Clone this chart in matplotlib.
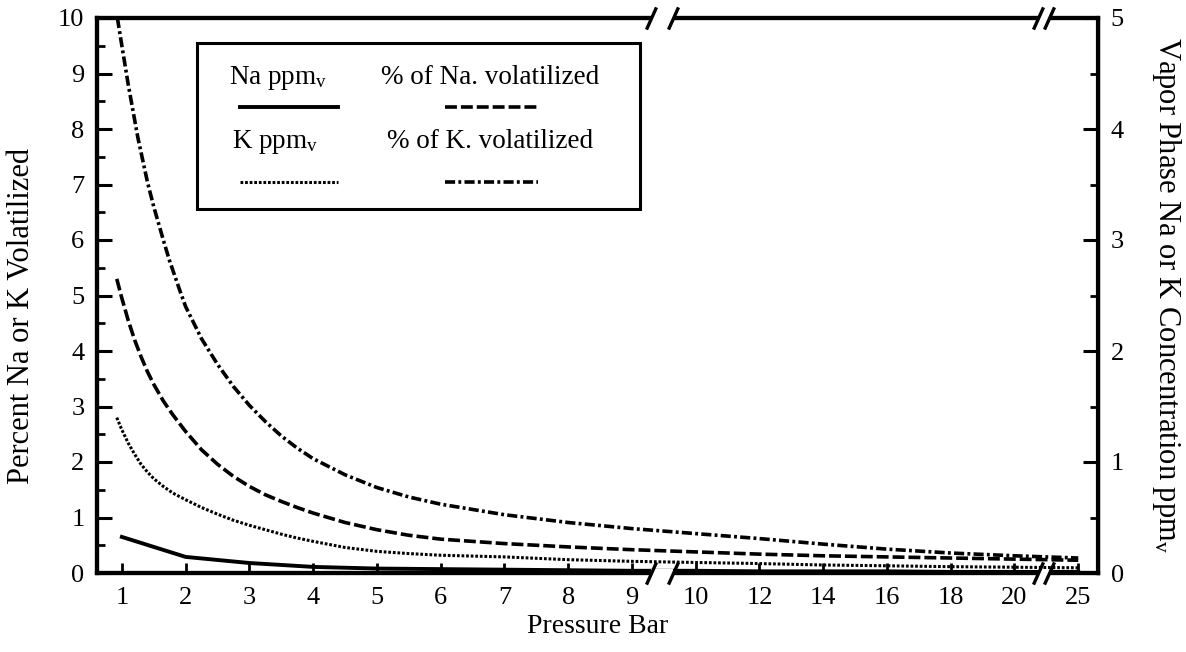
import numpy as np
import matplotlib
matplotlib.use("Agg")
import matplotlib.pyplot as plt
from matplotlib.patches import Rectangle

plt.rcParams['font.family'] = ['Liberation Serif', 'DejaVu Serif']
plt.rcParams['mathtext.fontset'] = 'custom'
plt.rcParams['mathtext.rm'] = 'Liberation Serif'
plt.rcParams['mathtext.it'] = 'Liberation Serif:italic'

# ---------------- data ----------------
# % of K volatilized (left axis)
k_pct_p = [0.93, 1.0, 1.1, 1.25, 1.4, 1.5, 1.65, 1.75, 1.9, 2.0, 2.25, 2.5, 2.75,
           3.0, 3.25, 3.5, 3.75, 4.0, 4.5, 5.0, 5.5, 6, 7, 8, 9,
           10, 12, 14, 16, 18, 20, 25]
k_pct = [10.0, 9.5, 8.8, 7.85, 7.05, 6.6, 6.0, 5.62, 5.12, 4.8, 4.22, 3.76, 3.36,
         3.02, 2.73, 2.47, 2.25, 2.06, 1.77, 1.54, 1.37, 1.24, 1.05, 0.91, 0.80,
         0.71, 0.62, 0.52, 0.43, 0.36, 0.31, 0.27]

# % of Na volatilized (left axis)
na_pct_p = [0.92, 1.0, 1.1, 1.2, 1.3, 1.4, 1.5, 1.65, 1.8, 2.0, 2.25, 2.5, 2.75,
            3.0, 3.25, 3.5, 3.75, 4.0, 4.5, 5.0, 5.5, 6, 7, 8, 9,
            10, 12, 14, 16, 18, 20, 25]
na_pct = [5.3, 4.95, 4.55, 4.2, 3.9, 3.63, 3.4, 3.1, 2.85, 2.55, 2.22, 1.96, 1.74,
          1.56, 1.41, 1.29, 1.18, 1.08, 0.91, 0.78, 0.68, 0.61, 0.53, 0.47, 0.42,
          0.38, 0.34, 0.31, 0.29, 0.27, 0.25, 0.23]

# K ppmv (right axis)
k_ppm_p = [0.92, 1.0, 1.1, 1.2, 1.3, 1.4, 1.5, 1.65, 1.8, 2.0, 2.25, 2.5, 2.75,
           3.0, 3.25, 3.5, 3.75, 4.0, 4.5, 5.0, 5.5, 6, 7, 8, 9,
           10, 12, 14, 16, 18, 20, 25]
k_ppm = [1.40, 1.29, 1.17, 1.07, 0.98, 0.91, 0.85, 0.78, 0.72, 0.66, 0.59, 0.53, 0.475,
         0.43, 0.39, 0.35, 0.315, 0.285, 0.23, 0.195, 0.175, 0.16, 0.145, 0.12, 0.105,
         0.095, 0.085, 0.072, 0.065, 0.057, 0.052, 0.047]

# Na ppmv (right axis)
na_ppm_p = [1, 2, 3, 4, 5, 6, 7, 8, 9, 10, 12, 14, 16, 18, 20, 25]
na_ppm = [0.325, 0.145, 0.09, 0.055, 0.04, 0.035, 0.03, 0.025, 0.02, 0.02,
          0.015, 0.015, 0.015, 0.01, 0.01, 0.01]

x_ticks = [1, 2, 3, 4, 5, 6, 7, 8, 9, 10, 12, 14, 16, 18, 20, 25]
x_ticklabels = [str(t) for t in x_ticks]

# ---------------- broken pressure scale ----------------
KP = np.array([-100.0, 1, 9, 10, 20, 25, 100])
KPOS = np.array([-101.0, 0, 8, 9, 14, 15, 90])

def fwd(p):
    return np.interp(p, KP, KPOS)

def inv(q):
    return np.interp(q, KPOS, KP)

fig = plt.figure(figsize=(11.86, 6.52), dpi=100)
ax = fig.add_axes([97/1186, 1-573/652, (1098-97)/1186, (573-18)/652])
ax.set_xscale('function', functions=(fwd, inv))
ax.set_xlim(float(inv(-0.39)), float(inv(15.31)))
ax.set_ylim(0, 10)
ax2 = ax.twinx()
ax2.set_ylim(0, 5)

LW = 2.6
DASHDOT = (0, (2.8, 0.9, 0.8, 0.9))
DASHED = (0, (3.3, 1.1))
DOTTED = (0, (0.9, 0.6))
ax.plot(k_pct_p, k_pct, color='black', lw=LW, ls=DASHDOT, dash_capstyle='butt')
ax.plot(na_pct_p, na_pct, color='black', lw=LW, ls=DASHED, dash_capstyle='butt')
ax2.plot(k_ppm_p, k_ppm, color='black', lw=2.2, ls=DOTTED, dash_capstyle='butt')
ax2.plot(na_ppm_p, na_ppm, color='black', lw=2.8, ls='-')

# ticks
FS = 19
ax.set_xticks(x_ticks)
ax.set_xticklabels(x_ticklabels, fontsize=FS)
ax.xaxis.set_minor_locator(matplotlib.ticker.NullLocator())
ax.set_yticks(range(0, 11))
ax.set_yticks(np.arange(0.5, 10, 1.0), minor=True)
ax2.set_yticks(range(0, 6))
ax2.set_yticks(np.arange(0.5, 5, 1.0), minor=True)
ax.tick_params(axis='x', which='major', direction='in', length=7, width=2,
               pad=10, labelsize=FS, top=False)
ax.tick_params(axis='y', which='major', direction='in', length=11, width=2.2,
               pad=9, labelsize=FS)
ax.tick_params(axis='y', which='minor', direction='in', length=6, width=2)
ax2.tick_params(axis='y', which='major', direction='in', length=11, width=2.2,
                pad=9, labelsize=FS)
ax2.tick_params(axis='y', which='minor', direction='in', length=6, width=2)

for a in (ax, ax2):
    for s in a.spines.values():
        s.set_linewidth(3)
ax2.spines['right'].set_linewidth(2.4)

ax.set_xlabel('Pressure Bar', fontsize=20, labelpad=4)
ax.set_ylabel('Percent Na or K Volatilized', fontsize=22, va='center')
ax.yaxis.set_label_coords(-0.075, 0.463)
ax2.set_ylabel('Vapor Phase Na or K Concentration ppm$_{\\rm v}$', fontsize=22,
               rotation=270, va='center')
ax2.yaxis.set_label_coords(1.068, 0.50)

# axis breaks
def axis_break(xa, xb):
    for yy in (0.0, 1.0):
        ax2.add_patch(Rectangle((xa, yy - 0.008), xb - xa, 0.016,
                                transform=ax2.get_xaxis_transform(),
                                facecolor='white', edgecolor='none',
                                clip_on=False, zorder=10))
        for xx in (xa, xb):
            ax2.plot([xx], [yy], transform=ax2.get_xaxis_transform(),
                     marker=[(-0.45, -1), (0.45, 1)], markersize=16,
                     markeredgewidth=2.4, color='black', clip_on=False,
                     zorder=11)

axis_break(float(inv(8.30)), float(inv(8.64)))
axis_break(float(inv(14.37)), float(inv(14.54)))

# legend (drawn manually: text above line samples)
T = ax2.transAxes
LFS = 19.5
ax2.add_patch(Rectangle((0.0999, 0.656), 0.4426, 0.299, transform=T,
                        facecolor='white', edgecolor='black', lw=2.2, zorder=5))
ax2.text(0.181, 0.892, 'Na ppm$_{\\rm v}$', transform=T, fontsize=LFS,
         ha='center', va='center', zorder=6)
ax2.text(0.393, 0.892, '% of Na. volatilized', transform=T, fontsize=LFS,
         ha='center', va='center', zorder=6)
ax2.text(0.178, 0.777, 'K ppm$_{\\rm v}$', transform=T, fontsize=LFS,
         ha='center', va='center', zorder=6)
ax2.text(0.393, 0.777, '% of K. volatilized', transform=T, fontsize=LFS,
         ha='center', va='center', zorder=6)
ax2.plot([0.143, 0.241], [0.840, 0.840], transform=T, color='black', lw=2.8,
         zorder=6)
ax2.plot([0.348, 0.441], [0.840, 0.840], transform=T, color='black', lw=LW,
         ls=DASHED, zorder=6)
ax2.plot([0.143, 0.241], [0.705, 0.705], transform=T, color='black', lw=2.2,
         ls=DOTTED, zorder=6)
ax2.plot([0.348, 0.441], [0.705, 0.705], transform=T, color='black', lw=LW,
         ls=DASHDOT, zorder=6)

fig.savefig('out.png', dpi=100)
